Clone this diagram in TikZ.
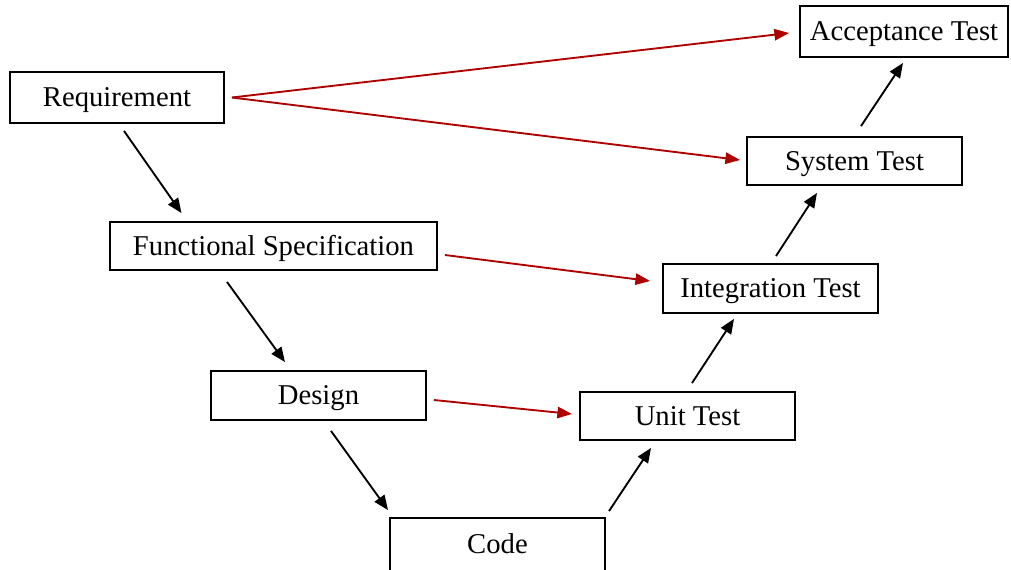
\documentclass[tikz,border=0pt]{standalone}
\usepackage{fontspec}
\setmainfont{Liberation Serif}
\usetikzlibrary{arrows.meta,positioning,calc}
\definecolor{linkred}{RGB}{175,0,0}
\tikzset{
  stagebox/.style={draw=black, line width=1.4pt, fill=white, inner sep=0pt,
    text height=16pt, text depth=2pt,
    font=\fontsize{21.5}{24}\selectfont, text=black},
  downln/.style={-{Triangle[length=11pt,width=9pt]}, line width=1.4pt, black},
  linkln/.style={-{Triangle[length=11pt,width=8.5pt]}, line width=1.4pt, linkred},
}
\begin{document}
\begin{tikzpicture}[x=0.75pt, y=-0.75pt]
    \useasboundingbox (0,0) rectangle (1011,569);
    % left branch of the V
    \node[stagebox, minimum width=214*0.75pt, minimum height=51*0.75pt]
      (req) at (117,97.5) {Requirement};
    \node[stagebox, minimum width=327*0.75pt, minimum height=48*0.75pt]
      (func) at (273.5,246) {Functional Specification};
    \node[stagebox, minimum width=215*0.75pt, minimum height=49*0.75pt]
      (design) at (318.5,395.5) {Design};
    \node[stagebox, minimum width=215*0.75pt, minimum height=53*0.75pt]
      (code) at (497.5,544.5) {Code};
    % right branch of the V
    \node[stagebox, minimum width=215*0.75pt, minimum height=48*0.75pt]
      (unit) at (687.5,416) {Unit Test};
    \node[stagebox, minimum width=215*0.75pt, minimum height=49*0.75pt]
      (integ) at (770.5,288.5) {Integration Test};
    \node[stagebox, minimum width=215*0.75pt, minimum height=48*0.75pt]
      (sys) at (854.5,161) {System Test};
    \node[stagebox, minimum width=208*0.75pt, minimum height=51*0.75pt]
      (acc) at (904,31.5) {Acceptance Test};
    % going down
    \draw[downln] ([shift={(7,7)}]req.south) -- ([shift={(-92,-8)}]func.north);
    \draw[downln] ([shift={(-46.5,11)}]func.south) -- ([shift={(-33.5,-8)}]design.north);
    \draw[downln] ([shift={(12.5,10)}]design.south) -- ([shift={(-109.5,-7)}]code.north);
    % going up
    \draw[downln] ([shift={(111.5,-6)}]code.north) -- ([shift={(-36.5,7)}]unit.south);
    \draw[downln] ([shift={(4.5,-8)}]unit.north) -- ([shift={(-36.5,5)}]integ.south);
    \draw[downln] ([shift={(5.5,-7)}]integ.north) -- ([shift={(-37.5,7)}]sys.south);
    \draw[downln] ([shift={(6.5,-10)}]sys.north) -- ([shift={(-1,5)}]acc.south);
    % test links across the V
    \draw[linkln] ([shift={(7,0)}]req.east) -- ([shift={(-10,1.5)}]acc.west);
    \draw[linkln] ([shift={(7,0)}]req.east) -- ([shift={(-6,-1)}]sys.west);
    \draw[linkln] ([shift={(7,9)}]func.east) -- ([shift={(-12,-7.5)}]integ.west);
    \draw[linkln] ([shift={(7,4.5)}]design.east) -- ([shift={(-7,-2)}]unit.west);
  \end{tikzpicture}
\end{document}
